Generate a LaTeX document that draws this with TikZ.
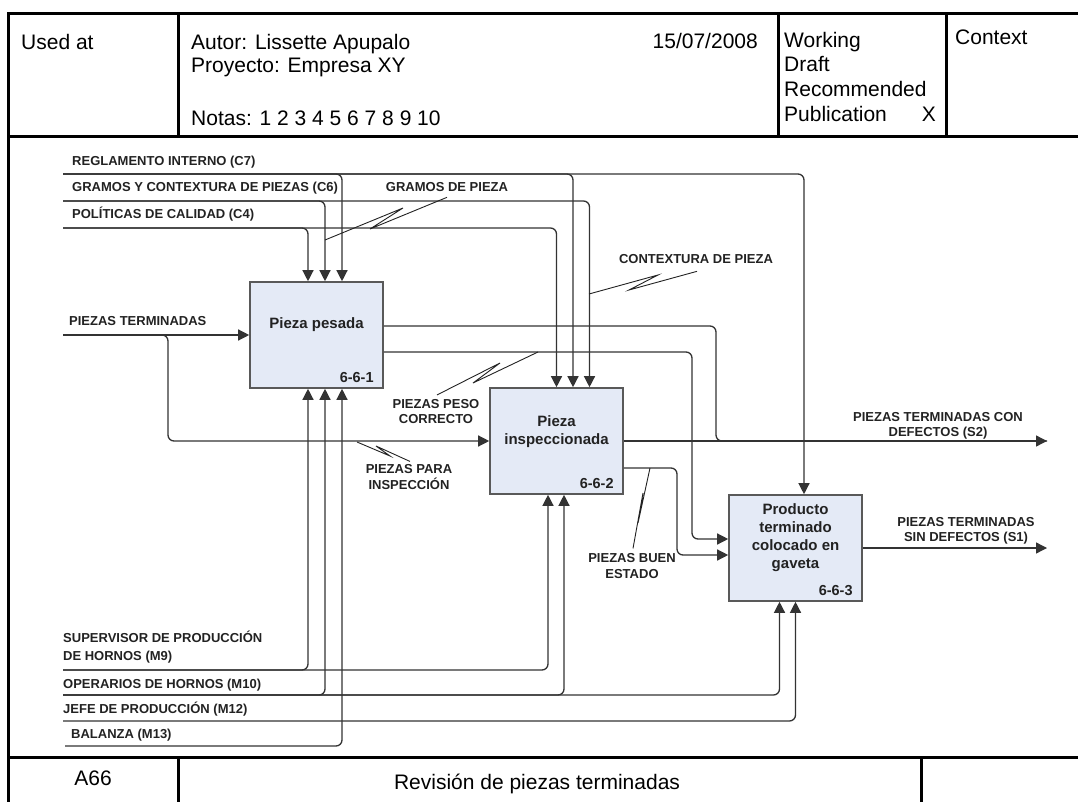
\documentclass[tikz,border=0pt]{standalone}
\usepackage{fontspec}
\setmainfont{Liberation Sans}
\usetikzlibrary{arrows.meta,calc}
\definecolor{boxfill}{HTML}{E4EAF6}
\definecolor{ink}{HTML}{222222}
\definecolor{wirecol}{HTML}{333333}
\begin{document}
\begin{tikzpicture}[x=1pt,y=-1pt,
  rule/.style={line width=3pt,line cap=rect},
  wire/.style={line width=1.3pt,draw=wirecol,rounded corners=6pt},
  feed/.style={wire,-{Triangle[length=11pt,width=11pt]}},
  squig/.style={line width=0.9pt,draw=ink,line join=miter},
  fnbox/.style={draw=black!65,line width=1.6pt,fill=boxfill,minimum width=133pt,minimum height=106pt,inner sep=0pt},
  ftitle/.style={font=\fontsize{15}{17.5}\selectfont\bfseries,text=ink,align=center,inner sep=0pt},
  fnum/.style={font=\fontsize{14.5}{17}\selectfont\bfseries,text=ink,inner sep=0pt,anchor=base east},
  tag/.style={font=\fontsize{13}{15.5}\selectfont\bfseries,text=ink,inner sep=0pt},
  hdr/.style={font=\fontsize{21}{24}\selectfont,inner sep=0pt,anchor=base west},
]
\useasboundingbox (0,0) rectangle (1078,802);

% ---------- form frame ----------
\begin{scope}
\clip (0,0) rectangle (1078,802);
\draw[rule] (8,820) -- (8,14) -- (1100,14);
\draw[rule] (8,137) -- (1100,137);
\draw[rule] (8,757) -- (1100,757);
\draw[rule] (178,14) -- (178,137);
\draw[rule] (778,14) -- (778,137);
\draw[rule] (946,14) -- (946,137);
\draw[rule] (178,757) -- (178,820);
\draw[rule] (921,757) -- (921,820);
\end{scope}

% ---------- header and footer texts ----------
\node[hdr] (usedat) at (21,50) {Used at};
\node[hdr] (autor) at (191,50) {Autor: Lissette Apupalo};
\node[hdr] (proy) at (191,73) {Proyecto: Empresa XY};
\node[hdr] (notas) at (191,126) {Notas: 1 2 3 4 5 6 7 8 9 10};
\node[hdr,anchor=base east] (fecha) at (758,49) {15/07/2008};
\node[hdr] (st1) at (784,48) {Working};
\node[hdr] (st2) at (784,72) {Draft};
\node[hdr] (st3) at (784,97) {Recommended};
\node[hdr] (st4) at (784,122) {Publication};
\node[hdr,anchor=base east] (stx) at (936,122) {X};
\node[hdr] (ctx) at (955,45) {Context};
\node[hdr,anchor=center] (nodo) at (93,778) {A66};
\node[hdr,anchor=center] (titulo) at (537,784) {Revisión de piezas terminadas};

% ---------- activity boxes ----------
\node[fnbox] (b1) at (316.5,335) {};
\node[fnbox] (b2) at (556.5,441) {};
\node[fnbox] (b3) at (795.5,548) {};
\node[ftitle] (t1) at (316.5,325) {Pieza pesada};
\node[ftitle] (t2) at (556.5,431.5) {Pieza\\inspeccionada};
\node[ftitle,font=\fontsize{15}{18}\selectfont\bfseries] (t3) at (795.5,538) {Producto\\terminado\\colocado en\\gaveta};
\node[fnum] (n1) at ($(b1.south east)+(-10,-6)$) {6-6-1};
\node[fnum] (n2) at ($(b2.south east)+(-10,-6)$) {6-6-2};
\node[fnum] (n3) at ($(b3.south east)+(-10,-6)$) {6-6-3};

% ---------- boundary ends and bend columns ----------
\coordinate (c7) at (63,174);
\coordinate (c6) at (63,201);
\coordinate (c4) at (63,228);
\coordinate (i1) at (63,335);
\coordinate (m9) at (63,670);
\coordinate (m10) at (63,695);
\coordinate (m12) at (63,721);
\coordinate (m13) at (65,746);
\coordinate (s2) at (1047,441);
\coordinate (s1) at (1047,548);
\coordinate (k1) at (168,0);
\coordinate (k2) at (716,0);
\coordinate (k3) at (692,0);
\coordinate (k4) at (677,0);

% ---------- boundary labels ----------
\node[tag,anchor=base west] (lc7) at (72,166) {REGLAMENTO INTERNO (C7)};
\node[tag,anchor=base west] (lc6) at (72,192) {GRAMOS Y CONTEXTURA DE PIEZAS (C6)};
\node[tag,anchor=base west] (lc4) at (72,219) {POLÍTICAS DE CALIDAD (C4)};
\node[tag,anchor=base west] (li1) at (69,325) {PIEZAS TERMINADAS};
\node[tag,anchor=west,align=left,font=\fontsize{13}{17.5}\selectfont\bfseries] (lm9) at (63,647) {SUPERVISOR DE PRODUCCIÓN\\DE HORNOS (M9)};
\node[tag,anchor=base west] (lm10) at (63,688) {OPERARIOS DE HORNOS (M10)};
\node[tag,anchor=base west] (lm12) at (63,713) {JEFE DE PRODUCCIÓN (M12)};
\node[tag,anchor=base west] (lm13) at (71,738) {BALANZA (M13)};
\node[tag,align=center] (ls2) at (938,426) {PIEZAS TERMINADAS CON\\DEFECTOS (S2)};
\node[tag,align=center] (ls1) at (966,531) {PIEZAS TERMINADAS\\SIN DEFECTOS (S1)};

% ---------- internal arrow labels ----------
\node[tag,anchor=base] (lg) at (447,192) {GRAMOS DE PIEZA};
\node[tag,anchor=base] (lct) at (696,263) {CONTEXTURA DE PIEZA};
\node[tag,align=center] (lpc) at (436,411.5) {PIEZAS PESO\\CORRECTO};
\node[tag,align=center] (lpi) at (409,477) {PIEZAS PARA\\INSPECCIÓN};
\node[tag,align=center] (lbe) at (632,566) {PIEZAS BUEN\\ESTADO};

% ---------- controls ----------
\draw[feed] (c7) -| ($(b1.north)+(25.5,0)$);
\draw[feed] (c7) -| ($(b2.north)+(16.5,0)$);
\draw[feed] (c7) -| ($(b3.north)+(8.5,0)$);
\draw[feed] (c6) -| ($(b1.north)+(8.5,0)$);
\draw[feed] (c6) -| ($(b2.north)+(33,0)$);
\draw[feed] (c4) -| ($(b1.north)+(-8.5,0)$);
\draw[feed] (c4) -| (b2.north);

% ---------- inputs ----------
\draw[feed] (i1) -- (b1.west);
\draw[feed] (i1) -| (k1 |- b2.west) -- (b2.west);

% ---------- outputs ----------
\draw[wire] ($(b1.east)+(0,-9)$) -| (k2 |- s2) -- (s2);
\draw[feed] ($(b1.east)+(0,17)$) -| (k3 |- {$(b3.west)+(0,-9)$}) -- ($(b3.west)+(0,-9)$);
\draw[feed] (b2.east) -- (s2);
\draw[feed] ($(b2.east)+(0,27)$) -| (k4 |- {$(b3.west)+(0,7)$}) -- ($(b3.west)+(0,7)$);
\draw[feed] (b3.east) -- (s1);

% ---------- mechanisms ----------
\draw[feed] (m9) -| ($(b1.south)+(-8.5,0)$);
\draw[feed] (m9) -| ($(b2.south)+(-8.5,0)$);
\draw[feed] (m10) -| ($(b1.south)+(8.5,0)$);
\draw[feed] (m10) -| ($(b2.south)+(7.5,0)$);
\draw[feed] (m10) -| ($(b3.south)+(-16,0)$);
\draw[feed] (m12) -| (b3.south);
\draw[feed] (m13) -| ($(b1.south)+(25.5,0)$);

% ---------- label squiggles ----------
\coordinate (qg) at (325,240);
\coordinate (qc) at (589,294);
\coordinate (qp) at (538,352);
\coordinate (qi) at (357,442);
\coordinate (qb) at (650,468);
\draw[squig] ($(lg.south)+(0,5)$) -- (370,229) -- (403,208) -- (qg);
\draw[squig] ($(lct.south)+(1,8)$) -- (629,290) -- (658,275) -- (qc);
\draw[squig] ($(lpc.north)+(1,-4)$) -- (500,363) -- (473,383) -- (qp);
\draw[squig] ($(lpi.north)+(1,-3)$) -- (376,446) -- (390,456) -- (qi);
\draw[squig] ($(lbe.north)+(1,-5)$) -- (643,493) -- (638,523) -- (qb);
\end{tikzpicture}
\end{document}
